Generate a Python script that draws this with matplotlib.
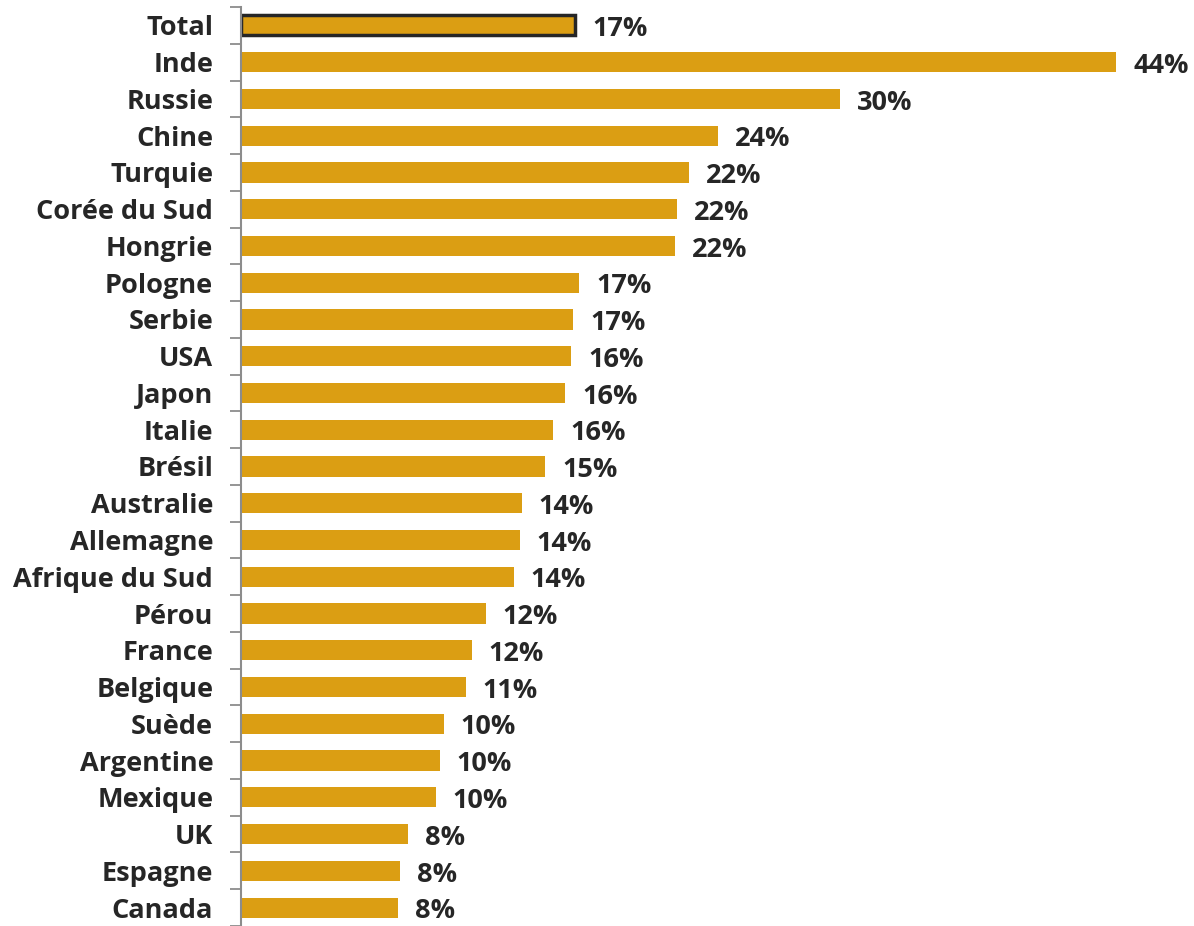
import numpy as np
import matplotlib.pyplot as plt

countries = ['Total', 'Inde', 'Russie', 'Chine', 'Turquie', 'Corée du Sud', 'Hongrie',
             'Pologne', 'Serbie', 'USA', 'Japon', 'Italie', 'Brésil', 'Australie',
             'Allemagne', 'Afrique du Sud', 'Pérou', 'France', 'Belgique', 'Suède',
             'Argentine', 'Mexique', 'UK', 'Espagne', 'Canada']
values = [16.8, 44.0, 30.1, 24.0, 22.5, 21.9, 21.8, 17.0, 16.7, 16.6, 16.3, 15.7, 15.3,
          14.1, 14.0, 13.7, 12.3, 11.6, 11.3, 10.2, 10.0, 9.8, 8.4, 8.0, 7.9]
labels = ['17%', '44%', '30%', '24%', '22%', '22%', '22%', '17%', '17%', '16%', '16%',
          '16%', '15%', '14%', '14%', '14%', '12%', '12%', '11%', '10%', '10%', '10%',
          '8%', '8%', '8%']

bar_color = '#DB9E13'
text_color = '#262626'
plt.rcParams['font.family'] = ['Open Sans', 'DejaVu Sans']

fig = plt.figure(figsize=(11.94, 9.26), dpi=100)
ax = fig.add_axes([241 / 1194, 0, 1 - 241 / 1194, 1 - 7 / 926])

y = np.arange(len(countries))
bars = ax.barh(y, values, height=0.55, color=bar_color)
# Total bar gets a dark outline
bars[0].set_edgecolor('#262626')
bars[0].set_linewidth(2.5)

for yi, v, lab in zip(y, values, labels):
    ax.text(v + 0.85, yi + 0.1, lab, va='center', ha='left', fontsize=19.5,
            fontweight='bold', color=text_color)

ax.set_ylim(len(countries) - 0.5, -0.5)
ax.set_xlim(0, 47.9)
ax.set_yticks(y)
ax.set_yticklabels(countries, fontsize=19.5, fontweight='bold', color=text_color)
ax.set_yticks(np.arange(len(countries) + 1) - 0.5, minor=True)
ax.tick_params(axis='y', which='major', length=0, pad=20)
ax.tick_params(axis='y', which='minor', length=8, width=1.3, color='#8C8C8C')
ax.set_xticks([])
for s in ['top', 'right', 'bottom']:
    ax.spines[s].set_visible(False)
ax.spines['left'].set_color('#8C8C8C')
ax.spines['left'].set_linewidth(1.5)

fig.savefig('out.png', dpi=100)
